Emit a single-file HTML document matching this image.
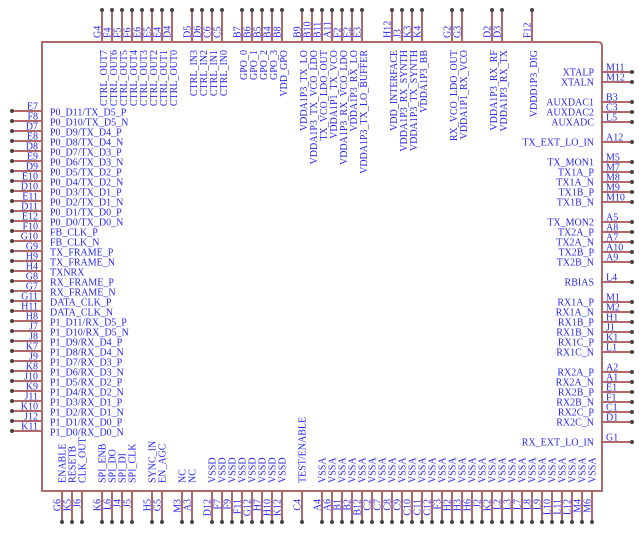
<!DOCTYPE html>
<html><head><meta charset="utf-8"><style>
html,body{margin:0;padding:0;background:#fff}
svg{display:block}
text{font-family:"Liberation Serif",serif;font-size:10px;fill:#2828ee}
.e{text-anchor:end}
line{stroke:#b06868;stroke-width:2}
circle{fill:#444}
</style></head><body>
<svg width="644" height="534" viewBox="0 0 644 534" xmlns="http://www.w3.org/2000/svg">
<path d="M42 42 H598 Q602 42 602 46 V491 H42 Z" fill="none" stroke="#b06868" stroke-width="2"/>

<!-- TOP PINS -->
<g>
<line x1="102" y1="10" x2="102" y2="42"/><circle cx="102" cy="10" r="2"/><text transform="translate(100.5,38) rotate(-90)">G4</text><text class="e" transform="translate(107,50) rotate(-90)">CTRL_OUT7</text>
<line x1="112" y1="10" x2="112" y2="42"/><circle cx="112" cy="10" r="2"/><text transform="translate(110.5,38) rotate(-90)">F4</text><text class="e" transform="translate(117,50) rotate(-90)">CTRL_OUT6</text>
<line x1="122" y1="10" x2="122" y2="42"/><circle cx="122" cy="10" r="2"/><text transform="translate(120.5,38) rotate(-90)">F5</text><text class="e" transform="translate(127,50) rotate(-90)">CTRL_OUT5</text>
<line x1="132" y1="10" x2="132" y2="42"/><circle cx="132" cy="10" r="2"/><text transform="translate(130.5,38) rotate(-90)">F6</text><text class="e" transform="translate(137,50) rotate(-90)">CTRL_OUT4</text>
<line x1="142" y1="10" x2="142" y2="42"/><circle cx="142" cy="10" r="2"/><text transform="translate(140.5,38) rotate(-90)">E6</text><text class="e" transform="translate(147,50) rotate(-90)">CTRL_OUT3</text>
<line x1="152" y1="10" x2="152" y2="42"/><circle cx="152" cy="10" r="2"/><text transform="translate(150.5,38) rotate(-90)">E5</text><text class="e" transform="translate(157,50) rotate(-90)">CTRL_OUT2</text>
<line x1="162" y1="10" x2="162" y2="42"/><circle cx="162" cy="10" r="2"/><text transform="translate(160.5,38) rotate(-90)">E4</text><text class="e" transform="translate(167,50) rotate(-90)">CTRL_OUT1</text>
<line x1="172" y1="10" x2="172" y2="42"/><circle cx="172" cy="10" r="2"/><text transform="translate(170.5,38) rotate(-90)">D4</text><text class="e" transform="translate(177,50) rotate(-90)">CTRL_OUT0</text>
<line x1="192" y1="10" x2="192" y2="42"/><circle cx="192" cy="10" r="2"/><text transform="translate(190.5,38) rotate(-90)">D5</text><text class="e" transform="translate(197,50) rotate(-90)">CTRL_IN3</text>
<line x1="202" y1="10" x2="202" y2="42"/><circle cx="202" cy="10" r="2"/><text transform="translate(200.5,38) rotate(-90)">D6</text><text class="e" transform="translate(207,50) rotate(-90)">CTRL_IN2</text>
<line x1="212" y1="10" x2="212" y2="42"/><circle cx="212" cy="10" r="2"/><text transform="translate(210.5,38) rotate(-90)">C6</text><text class="e" transform="translate(217,50) rotate(-90)">CTRL_IN1</text>
<line x1="222" y1="10" x2="222" y2="42"/><circle cx="222" cy="10" r="2"/><text transform="translate(220.5,38) rotate(-90)">C5</text><text class="e" transform="translate(227,50) rotate(-90)">CTRL_IN0</text>
<line x1="242" y1="10" x2="242" y2="42"/><circle cx="242" cy="10" r="2"/><text transform="translate(240.5,38) rotate(-90)">B7</text><text class="e" transform="translate(247,50) rotate(-90)">GPO_0</text>
<line x1="252" y1="10" x2="252" y2="42"/><circle cx="252" cy="10" r="2"/><text transform="translate(250.5,38) rotate(-90)">B6</text><text class="e" transform="translate(257,50) rotate(-90)">GPO_1</text>
<line x1="262" y1="10" x2="262" y2="42"/><circle cx="262" cy="10" r="2"/><text transform="translate(260.5,38) rotate(-90)">B5</text><text class="e" transform="translate(267,50) rotate(-90)">GPO_2</text>
<line x1="272" y1="10" x2="272" y2="42"/><circle cx="272" cy="10" r="2"/><text transform="translate(270.5,38) rotate(-90)">B4</text><text class="e" transform="translate(277,50) rotate(-90)">GPO_3</text>
<line x1="282" y1="10" x2="282" y2="42"/><circle cx="282" cy="10" r="2"/><text transform="translate(280.5,38) rotate(-90)">B8</text><text class="e" transform="translate(287,50) rotate(-90)">VDD_GPO</text>
<line x1="302" y1="10" x2="302" y2="42"/><circle cx="302" cy="10" r="2"/><text transform="translate(300.5,38) rotate(-90)">B9</text><text class="e" transform="translate(307,50) rotate(-90)">VDDA1P3_TX_LO</text>
<line x1="312" y1="10" x2="312" y2="42"/><circle cx="312" cy="10" r="2"/><text transform="translate(310.5,38) rotate(-90)">B10</text><text class="e" transform="translate(317,50) rotate(-90)">VDDA1P3_TX_VCO_LDO</text>
<line x1="322" y1="10" x2="322" y2="42"/><circle cx="322" cy="10" r="2"/><text transform="translate(320.5,38) rotate(-90)">B11</text><text class="e" transform="translate(327,50) rotate(-90)">TX_VCO_LDO_OUT</text>
<line x1="332" y1="10" x2="332" y2="42"/><circle cx="332" cy="10" r="2"/><text transform="translate(330.5,38) rotate(-90)">A11</text><text class="e" transform="translate(337,50) rotate(-90)">VDDA1P1_TX_VCO</text>
<line x1="342" y1="10" x2="342" y2="42"/><circle cx="342" cy="10" r="2"/><text transform="translate(340.5,38) rotate(-90)">F2</text><text class="e" transform="translate(347,50) rotate(-90)">VDDA1P3_RX_VCO_LDO</text>
<line x1="352" y1="10" x2="352" y2="42"/><circle cx="352" cy="10" r="2"/><text transform="translate(350.5,38) rotate(-90)">E2</text><text class="e" transform="translate(357,50) rotate(-90)">VDDA1P3_RX_LO</text>
<line x1="362" y1="10" x2="362" y2="42"/><circle cx="362" cy="10" r="2"/><text transform="translate(360.5,38) rotate(-90)">E3</text><text class="e" transform="translate(367,50) rotate(-90)">VDDA1P3_TX_LO_BUFFER</text>
<line x1="392" y1="10" x2="392" y2="42"/><circle cx="392" cy="10" r="2"/><text transform="translate(390.5,38) rotate(-90)">H12</text><text class="e" transform="translate(397,50) rotate(-90)">VDD_INTERFACE</text>
<line x1="402" y1="10" x2="402" y2="42"/><circle cx="402" cy="10" r="2"/><text transform="translate(400.5,38) rotate(-90)">J3</text><text class="e" transform="translate(407,50) rotate(-90)">VDDA1P3_RX_SYNTH</text>
<line x1="412" y1="10" x2="412" y2="42"/><circle cx="412" cy="10" r="2"/><text transform="translate(410.5,38) rotate(-90)">K3</text><text class="e" transform="translate(417,50) rotate(-90)">VDDA1P3_TX_SYNTH</text>
<line x1="422" y1="10" x2="422" y2="42"/><circle cx="422" cy="10" r="2"/><text transform="translate(420.5,38) rotate(-90)">K4</text><text class="e" transform="translate(427,50) rotate(-90)">VDDA1P3_BB</text>
<line x1="452" y1="10" x2="452" y2="42"/><circle cx="452" cy="10" r="2"/><text transform="translate(450.5,38) rotate(-90)">G2</text><text class="e" transform="translate(457,50) rotate(-90)">RX_VCO_LDO_OUT</text>
<line x1="462" y1="10" x2="462" y2="42"/><circle cx="462" cy="10" r="2"/><text transform="translate(460.5,38) rotate(-90)">G3</text><text class="e" transform="translate(467,50) rotate(-90)">VDDA1P1_RX_VCO</text>
<line x1="492" y1="10" x2="492" y2="42"/><circle cx="492" cy="10" r="2"/><text transform="translate(490.5,38) rotate(-90)">D2</text><text class="e" transform="translate(497,50) rotate(-90)">VDDA1P3_RX_RF</text>
<line x1="502" y1="10" x2="502" y2="42"/><circle cx="502" cy="10" r="2"/><text transform="translate(500.5,38) rotate(-90)">D3</text><text class="e" transform="translate(507,50) rotate(-90)">VDDA1P3_RX_TX</text>
<line x1="532" y1="10" x2="532" y2="42"/><circle cx="532" cy="10" r="2"/><text transform="translate(530.5,38) rotate(-90)">F12</text><text class="e" transform="translate(537,50) rotate(-90)">VDDD1P3_DIG</text>
</g>

<!-- LEFT PINS -->
<g>
<line x1="12" y1="111" x2="42" y2="111"/><circle cx="12" cy="111" r="2"/><text class="e" x="38" y="109.5">E7</text><text x="50" y="115.5">P0_D11/TX_D5_P</text>
<line x1="12" y1="121" x2="42" y2="121"/><circle cx="12" cy="121" r="2"/><text class="e" x="38" y="119.5">F8</text><text x="50" y="125.5">P0_D10/TX_D5_N</text>
<line x1="12" y1="131" x2="42" y2="131"/><circle cx="12" cy="131" r="2"/><text class="e" x="38" y="129.5">D7</text><text x="50" y="135.5">P0_D9/TX_D4_P</text>
<line x1="12" y1="141" x2="42" y2="141"/><circle cx="12" cy="141" r="2"/><text class="e" x="38" y="139.5">E8</text><text x="50" y="145.5">P0_D8/TX_D4_N</text>
<line x1="12" y1="151" x2="42" y2="151"/><circle cx="12" cy="151" r="2"/><text class="e" x="38" y="149.5">D8</text><text x="50" y="155.5">P0_D7/TX_D3_P</text>
<line x1="12" y1="161" x2="42" y2="161"/><circle cx="12" cy="161" r="2"/><text class="e" x="38" y="159.5">E9</text><text x="50" y="165.5">P0_D6/TX_D3_N</text>
<line x1="12" y1="171" x2="42" y2="171"/><circle cx="12" cy="171" r="2"/><text class="e" x="38" y="169.5">D9</text><text x="50" y="175.5">P0_D5/TX_D2_P</text>
<line x1="12" y1="181" x2="42" y2="181"/><circle cx="12" cy="181" r="2"/><text class="e" x="38" y="179.5">E10</text><text x="50" y="185.5">P0_D4/TX_D2_N</text>
<line x1="12" y1="191" x2="42" y2="191"/><circle cx="12" cy="191" r="2"/><text class="e" x="38" y="189.5">D10</text><text x="50" y="195.5">P0_D3/TX_D1_P</text>
<line x1="12" y1="201" x2="42" y2="201"/><circle cx="12" cy="201" r="2"/><text class="e" x="38" y="199.5">E11</text><text x="50" y="205.5">P0_D2/TX_D1_N</text>
<line x1="12" y1="211" x2="42" y2="211"/><circle cx="12" cy="211" r="2"/><text class="e" x="38" y="209.5">D11</text><text x="50" y="215.5">P0_D1/TX_D0_P</text>
<line x1="12" y1="221" x2="42" y2="221"/><circle cx="12" cy="221" r="2"/><text class="e" x="38" y="219.5">E12</text><text x="50" y="225.5">P0_D0/TX_D0_N</text>
<line x1="12" y1="231" x2="42" y2="231"/><circle cx="12" cy="231" r="2"/><text class="e" x="38" y="229.5">F10</text><text x="50" y="235.5">FB_CLK_P</text>
<line x1="12" y1="241" x2="42" y2="241"/><circle cx="12" cy="241" r="2"/><text class="e" x="38" y="239.5">G10</text><text x="50" y="245.5">FB_CLK_N</text>
<line x1="12" y1="251" x2="42" y2="251"/><circle cx="12" cy="251" r="2"/><text class="e" x="38" y="249.5">G9</text><text x="50" y="255.5">TX_FRAME_P</text>
<line x1="12" y1="261" x2="42" y2="261"/><circle cx="12" cy="261" r="2"/><text class="e" x="38" y="259.5">H9</text><text x="50" y="265.5">TX_FRAME_N</text>
<line x1="12" y1="271" x2="42" y2="271"/><circle cx="12" cy="271" r="2"/><text class="e" x="38" y="269.5">H4</text><text x="50" y="275.5">TXNRX</text>
<line x1="12" y1="281" x2="42" y2="281"/><circle cx="12" cy="281" r="2"/><text class="e" x="38" y="279.5">G8</text><text x="50" y="285.5">RX_FRAME_P</text>
<line x1="12" y1="291" x2="42" y2="291"/><circle cx="12" cy="291" r="2"/><text class="e" x="38" y="289.5">G7</text><text x="50" y="295.5">RX_FRAME_N</text>
<line x1="12" y1="301" x2="42" y2="301"/><circle cx="12" cy="301" r="2"/><text class="e" x="38" y="299.5">G11</text><text x="50" y="305.5">DATA_CLK_P</text>
<line x1="12" y1="311" x2="42" y2="311"/><circle cx="12" cy="311" r="2"/><text class="e" x="38" y="309.5">H11</text><text x="50" y="315.5">DATA_CLK_N</text>
<line x1="12" y1="321" x2="42" y2="321"/><circle cx="12" cy="321" r="2"/><text class="e" x="38" y="319.5">H8</text><text x="50" y="325.5">P1_D11/RX_D5_P</text>
<line x1="12" y1="331" x2="42" y2="331"/><circle cx="12" cy="331" r="2"/><text class="e" x="38" y="329.5">J7</text><text x="50" y="335.5">P1_D10/RX_D5_N</text>
<line x1="12" y1="341" x2="42" y2="341"/><circle cx="12" cy="341" r="2"/><text class="e" x="38" y="339.5">J8</text><text x="50" y="345.5">P1_D9/RX_D4_P</text>
<line x1="12" y1="351" x2="42" y2="351"/><circle cx="12" cy="351" r="2"/><text class="e" x="38" y="349.5">K7</text><text x="50" y="355.5">P1_D8/RX_D4_N</text>
<line x1="12" y1="361" x2="42" y2="361"/><circle cx="12" cy="361" r="2"/><text class="e" x="38" y="359.5">J9</text><text x="50" y="365.5">P1_D7/RX_D3_P</text>
<line x1="12" y1="371" x2="42" y2="371"/><circle cx="12" cy="371" r="2"/><text class="e" x="38" y="369.5">K8</text><text x="50" y="375.5">P1_D6/RX_D3_N</text>
<line x1="12" y1="381" x2="42" y2="381"/><circle cx="12" cy="381" r="2"/><text class="e" x="38" y="379.5">J10</text><text x="50" y="385.5">P1_D5/RX_D2_P</text>
<line x1="12" y1="391" x2="42" y2="391"/><circle cx="12" cy="391" r="2"/><text class="e" x="38" y="389.5">K9</text><text x="50" y="395.5">P1_D4/RX_D2_N</text>
<line x1="12" y1="401" x2="42" y2="401"/><circle cx="12" cy="401" r="2"/><text class="e" x="38" y="399.5">J11</text><text x="50" y="405.5">P1_D3/RX_D1_P</text>
<line x1="12" y1="411" x2="42" y2="411"/><circle cx="12" cy="411" r="2"/><text class="e" x="38" y="409.5">K10</text><text x="50" y="415.5">P1_D2/RX_D1_N</text>
<line x1="12" y1="421" x2="42" y2="421"/><circle cx="12" cy="421" r="2"/><text class="e" x="38" y="419.5">J12</text><text x="50" y="425.5">P1_D1/RX_D0_P</text>
<line x1="12" y1="431" x2="42" y2="431"/><circle cx="12" cy="431" r="2"/><text class="e" x="38" y="429.5">K11</text><text x="50" y="435.5">P1_D0/RX_D0_N</text>
</g>

<!-- RIGHT PINS -->
<g>
<line x1="602" y1="72" x2="632" y2="72"/><circle cx="632" cy="72" r="2"/><text x="606" y="70.5">M11</text><text class="e" x="594" y="75.5">XTALP</text>
<line x1="602" y1="82" x2="632" y2="82"/><circle cx="632" cy="82" r="2"/><text x="606" y="80.5">M12</text><text class="e" x="594" y="85.5">XTALN</text>
<line x1="602" y1="102" x2="632" y2="102"/><circle cx="632" cy="102" r="2"/><text x="606" y="100.5">B3</text><text class="e" x="594" y="105.5">AUXDAC1</text>
<line x1="602" y1="112" x2="632" y2="112"/><circle cx="632" cy="112" r="2"/><text x="606" y="110.5">C3</text><text class="e" x="594" y="115.5">AUXDAC2</text>
<line x1="602" y1="122" x2="632" y2="122"/><circle cx="632" cy="122" r="2"/><text x="606" y="120.5">L5</text><text class="e" x="594" y="125.5">AUXADC</text>
<line x1="602" y1="142" x2="632" y2="142"/><circle cx="632" cy="142" r="2"/><text x="606" y="140.5">A12</text><text class="e" x="594" y="145.5">TX_EXT_LO_IN</text>
<line x1="602" y1="162" x2="632" y2="162"/><circle cx="632" cy="162" r="2"/><text x="606" y="160.5">M5</text><text class="e" x="594" y="165.5">TX_MON1</text>
<line x1="602" y1="172" x2="632" y2="172"/><circle cx="632" cy="172" r="2"/><text x="606" y="170.5">M7</text><text class="e" x="594" y="175.5">TX1A_P</text>
<line x1="602" y1="182" x2="632" y2="182"/><circle cx="632" cy="182" r="2"/><text x="606" y="180.5">M8</text><text class="e" x="594" y="185.5">TX1A_N</text>
<line x1="602" y1="192" x2="632" y2="192"/><circle cx="632" cy="192" r="2"/><text x="606" y="190.5">M9</text><text class="e" x="594" y="195.5">TX1B_P</text>
<line x1="602" y1="202" x2="632" y2="202"/><circle cx="632" cy="202" r="2"/><text x="606" y="200.5">M10</text><text class="e" x="594" y="205.5">TX1B_N</text>
<line x1="602" y1="222" x2="632" y2="222"/><circle cx="632" cy="222" r="2"/><text x="606" y="220.5">A5</text><text class="e" x="594" y="225.5">TX_MON2</text>
<line x1="602" y1="232" x2="632" y2="232"/><circle cx="632" cy="232" r="2"/><text x="606" y="230.5">A8</text><text class="e" x="594" y="235.5">TX2A_P</text>
<line x1="602" y1="242" x2="632" y2="242"/><circle cx="632" cy="242" r="2"/><text x="606" y="240.5">A7</text><text class="e" x="594" y="245.5">TX2A_N</text>
<line x1="602" y1="252" x2="632" y2="252"/><circle cx="632" cy="252" r="2"/><text x="606" y="250.5">A10</text><text class="e" x="594" y="255.5">TX2B_P</text>
<line x1="602" y1="262" x2="632" y2="262"/><circle cx="632" cy="262" r="2"/><text x="606" y="260.5">A9</text><text class="e" x="594" y="265.5">TX2B_N</text>
<line x1="602" y1="282" x2="632" y2="282"/><circle cx="632" cy="282" r="2"/><text x="606" y="280.5">L4</text><text class="e" x="594" y="285.5">RBIAS</text>
<line x1="602" y1="302" x2="632" y2="302"/><circle cx="632" cy="302" r="2"/><text x="606" y="300.5">M1</text><text class="e" x="594" y="305.5">RX1A_P</text>
<line x1="602" y1="312" x2="632" y2="312"/><circle cx="632" cy="312" r="2"/><text x="606" y="310.5">M2</text><text class="e" x="594" y="315.5">RX1A_N</text>
<line x1="602" y1="322" x2="632" y2="322"/><circle cx="632" cy="322" r="2"/><text x="606" y="320.5">H1</text><text class="e" x="594" y="325.5">RX1B_P</text>
<line x1="602" y1="332" x2="632" y2="332"/><circle cx="632" cy="332" r="2"/><text x="606" y="330.5">J1</text><text class="e" x="594" y="335.5">RX1B_N</text>
<line x1="602" y1="342" x2="632" y2="342"/><circle cx="632" cy="342" r="2"/><text x="606" y="340.5">K1</text><text class="e" x="594" y="345.5">RX1C_P</text>
<line x1="602" y1="352" x2="632" y2="352"/><circle cx="632" cy="352" r="2"/><text x="606" y="350.5">L1</text><text class="e" x="594" y="355.5">RX1C_N</text>
<line x1="602" y1="372" x2="632" y2="372"/><circle cx="632" cy="372" r="2"/><text x="606" y="370.5">A2</text><text class="e" x="594" y="375.5">RX2A_P</text>
<line x1="602" y1="382" x2="632" y2="382"/><circle cx="632" cy="382" r="2"/><text x="606" y="380.5">A1</text><text class="e" x="594" y="385.5">RX2A_N</text>
<line x1="602" y1="392" x2="632" y2="392"/><circle cx="632" cy="392" r="2"/><text x="606" y="390.5">E1</text><text class="e" x="594" y="395.5">RX2B_P</text>
<line x1="602" y1="402" x2="632" y2="402"/><circle cx="632" cy="402" r="2"/><text x="606" y="400.5">F1</text><text class="e" x="594" y="405.5">RX2B_N</text>
<line x1="602" y1="412" x2="632" y2="412"/><circle cx="632" cy="412" r="2"/><text x="606" y="410.5">C1</text><text class="e" x="594" y="415.5">RX2C_P</text>
<line x1="602" y1="422" x2="632" y2="422"/><circle cx="632" cy="422" r="2"/><text x="606" y="420.5">D1</text><text class="e" x="594" y="425.5">RX2C_N</text>
<line x1="602" y1="442" x2="632" y2="442"/><circle cx="632" cy="442" r="2"/><text x="606" y="440.5">G1</text><text class="e" x="594" y="445.5">RX_EXT_LO_IN</text>
</g>

<!-- BOTTOM PINS -->
<g>
<line x1="62" y1="491" x2="62" y2="522"/><circle cx="62" cy="522" r="2"/><text class="e" transform="translate(60.5,499) rotate(-90)">G6</text><text transform="translate(65.5,483) rotate(-90)">ENABLE</text>
<line x1="72" y1="491" x2="72" y2="522"/><circle cx="72" cy="522" r="2"/><text class="e" transform="translate(70.5,499) rotate(-90)">K5</text><text transform="translate(75.5,483) rotate(-90)">RESETB</text>
<line x1="82" y1="491" x2="82" y2="522"/><circle cx="82" cy="522" r="2"/><text class="e" transform="translate(80.5,499) rotate(-90)">J6</text><text transform="translate(85.5,483) rotate(-90)">CLK_OUT</text>
<line x1="102" y1="491" x2="102" y2="522"/><circle cx="102" cy="522" r="2"/><text class="e" transform="translate(100.5,499) rotate(-90)">K6</text><text transform="translate(105.5,483) rotate(-90)">SPI_ENB</text>
<line x1="112" y1="491" x2="112" y2="522"/><circle cx="112" cy="522" r="2"/><text class="e" transform="translate(110.5,499) rotate(-90)">L6</text><text transform="translate(115.5,483) rotate(-90)">SPI_DO</text>
<line x1="122" y1="491" x2="122" y2="522"/><circle cx="122" cy="522" r="2"/><text class="e" transform="translate(120.5,499) rotate(-90)">J4</text><text transform="translate(125.5,483) rotate(-90)">SPI_DI</text>
<line x1="132" y1="491" x2="132" y2="522"/><circle cx="132" cy="522" r="2"/><text class="e" transform="translate(130.5,499) rotate(-90)">J5</text><text transform="translate(135.5,483) rotate(-90)">SPI_CLK</text>
<line x1="152" y1="491" x2="152" y2="522"/><circle cx="152" cy="522" r="2"/><text class="e" transform="translate(150.5,499) rotate(-90)">H5</text><text transform="translate(155.5,483) rotate(-90)">SYNC_IN</text>
<line x1="162" y1="491" x2="162" y2="522"/><circle cx="162" cy="522" r="2"/><text class="e" transform="translate(160.5,499) rotate(-90)">G5</text><text transform="translate(165.5,483) rotate(-90)">EN_AGC</text>
<line x1="182" y1="491" x2="182" y2="522"/><circle cx="182" cy="522" r="2"/><text class="e" transform="translate(180.5,499) rotate(-90)">M3</text><text transform="translate(185.5,483) rotate(-90)">NC</text>
<line x1="192" y1="491" x2="192" y2="522"/><circle cx="192" cy="522" r="2"/><text class="e" transform="translate(190.5,499) rotate(-90)">A3</text><text transform="translate(195.5,483) rotate(-90)">NC</text>
<line x1="212" y1="491" x2="212" y2="522"/><circle cx="212" cy="522" r="2"/><text class="e" transform="translate(210.5,499) rotate(-90)">D12</text><text transform="translate(215.5,483) rotate(-90)">VSSD</text>
<line x1="222" y1="491" x2="222" y2="522"/><circle cx="222" cy="522" r="2"/><text class="e" transform="translate(220.5,499) rotate(-90)">F7</text><text transform="translate(225.5,483) rotate(-90)">VSSD</text>
<line x1="232" y1="491" x2="232" y2="522"/><circle cx="232" cy="522" r="2"/><text class="e" transform="translate(230.5,499) rotate(-90)">F9</text><text transform="translate(235.5,483) rotate(-90)">VSSD</text>
<line x1="242" y1="491" x2="242" y2="522"/><circle cx="242" cy="522" r="2"/><text class="e" transform="translate(240.5,499) rotate(-90)">F11</text><text transform="translate(245.5,483) rotate(-90)">VSSD</text>
<line x1="252" y1="491" x2="252" y2="522"/><circle cx="252" cy="522" r="2"/><text class="e" transform="translate(250.5,499) rotate(-90)">G12</text><text transform="translate(255.5,483) rotate(-90)">VSSD</text>
<line x1="262" y1="491" x2="262" y2="522"/><circle cx="262" cy="522" r="2"/><text class="e" transform="translate(260.5,499) rotate(-90)">H7</text><text transform="translate(265.5,483) rotate(-90)">VSSD</text>
<line x1="272" y1="491" x2="272" y2="522"/><circle cx="272" cy="522" r="2"/><text class="e" transform="translate(270.5,499) rotate(-90)">H10</text><text transform="translate(275.5,483) rotate(-90)">VSSD</text>
<line x1="282" y1="491" x2="282" y2="522"/><circle cx="282" cy="522" r="2"/><text class="e" transform="translate(280.5,499) rotate(-90)">K12</text><text transform="translate(285.5,483) rotate(-90)">VSSD</text>
<line x1="302" y1="491" x2="302" y2="522"/><circle cx="302" cy="522" r="2"/><text class="e" transform="translate(300.5,499) rotate(-90)">C4</text><text transform="translate(305.5,483) rotate(-90)">TEST/ENABLE</text>
<line x1="322" y1="491" x2="322" y2="522"/><circle cx="322" cy="522" r="2"/><text class="e" transform="translate(320.5,499) rotate(-90)">A4</text><text transform="translate(325.5,483) rotate(-90)">VSSA</text>
<line x1="332" y1="491" x2="332" y2="522"/><circle cx="332" cy="522" r="2"/><text class="e" transform="translate(330.5,499) rotate(-90)">A6</text><text transform="translate(335.5,483) rotate(-90)">VSSA</text>
<line x1="342" y1="491" x2="342" y2="522"/><circle cx="342" cy="522" r="2"/><text class="e" transform="translate(340.5,499) rotate(-90)">B1</text><text transform="translate(345.5,483) rotate(-90)">VSSA</text>
<line x1="352" y1="491" x2="352" y2="522"/><circle cx="352" cy="522" r="2"/><text class="e" transform="translate(350.5,499) rotate(-90)">B2</text><text transform="translate(355.5,483) rotate(-90)">VSSA</text>
<line x1="362" y1="491" x2="362" y2="522"/><circle cx="362" cy="522" r="2"/><text class="e" transform="translate(360.5,499) rotate(-90)">B12</text><text transform="translate(365.5,483) rotate(-90)">VSSA</text>
<line x1="372" y1="491" x2="372" y2="522"/><circle cx="372" cy="522" r="2"/><text class="e" transform="translate(370.5,499) rotate(-90)">C2</text><text transform="translate(375.5,483) rotate(-90)">VSSA</text>
<line x1="382" y1="491" x2="382" y2="522"/><circle cx="382" cy="522" r="2"/><text class="e" transform="translate(380.5,499) rotate(-90)">C7</text><text transform="translate(385.5,483) rotate(-90)">VSSA</text>
<line x1="392" y1="491" x2="392" y2="522"/><circle cx="392" cy="522" r="2"/><text class="e" transform="translate(390.5,499) rotate(-90)">C8</text><text transform="translate(395.5,483) rotate(-90)">VSSA</text>
<line x1="402" y1="491" x2="402" y2="522"/><circle cx="402" cy="522" r="2"/><text class="e" transform="translate(400.5,499) rotate(-90)">C9</text><text transform="translate(405.5,483) rotate(-90)">VSSA</text>
<line x1="412" y1="491" x2="412" y2="522"/><circle cx="412" cy="522" r="2"/><text class="e" transform="translate(410.5,499) rotate(-90)">C10</text><text transform="translate(415.5,483) rotate(-90)">VSSA</text>
<line x1="422" y1="491" x2="422" y2="522"/><circle cx="422" cy="522" r="2"/><text class="e" transform="translate(420.5,499) rotate(-90)">C11</text><text transform="translate(425.5,483) rotate(-90)">VSSA</text>
<line x1="432" y1="491" x2="432" y2="522"/><circle cx="432" cy="522" r="2"/><text class="e" transform="translate(430.5,499) rotate(-90)">C12</text><text transform="translate(435.5,483) rotate(-90)">VSSA</text>
<line x1="442" y1="491" x2="442" y2="522"/><circle cx="442" cy="522" r="2"/><text class="e" transform="translate(440.5,499) rotate(-90)">F3</text><text transform="translate(445.5,483) rotate(-90)">VSSA</text>
<line x1="452" y1="491" x2="452" y2="522"/><circle cx="452" cy="522" r="2"/><text class="e" transform="translate(450.5,499) rotate(-90)">H2</text><text transform="translate(455.5,483) rotate(-90)">VSSA</text>
<line x1="462" y1="491" x2="462" y2="522"/><circle cx="462" cy="522" r="2"/><text class="e" transform="translate(460.5,499) rotate(-90)">H3</text><text transform="translate(465.5,483) rotate(-90)">VSSA</text>
<line x1="472" y1="491" x2="472" y2="522"/><circle cx="472" cy="522" r="2"/><text class="e" transform="translate(470.5,499) rotate(-90)">H6</text><text transform="translate(475.5,483) rotate(-90)">VSSA</text>
<line x1="482" y1="491" x2="482" y2="522"/><circle cx="482" cy="522" r="2"/><text class="e" transform="translate(480.5,499) rotate(-90)">J2</text><text transform="translate(485.5,483) rotate(-90)">VSSA</text>
<line x1="492" y1="491" x2="492" y2="522"/><circle cx="492" cy="522" r="2"/><text class="e" transform="translate(490.5,499) rotate(-90)">K2</text><text transform="translate(495.5,483) rotate(-90)">VSSA</text>
<line x1="502" y1="491" x2="502" y2="522"/><circle cx="502" cy="522" r="2"/><text class="e" transform="translate(500.5,499) rotate(-90)">L2</text><text transform="translate(505.5,483) rotate(-90)">VSSA</text>
<line x1="512" y1="491" x2="512" y2="522"/><circle cx="512" cy="522" r="2"/><text class="e" transform="translate(510.5,499) rotate(-90)">L3</text><text transform="translate(515.5,483) rotate(-90)">VSSA</text>
<line x1="522" y1="491" x2="522" y2="522"/><circle cx="522" cy="522" r="2"/><text class="e" transform="translate(520.5,499) rotate(-90)">L7</text><text transform="translate(525.5,483) rotate(-90)">VSSA</text>
<line x1="532" y1="491" x2="532" y2="522"/><circle cx="532" cy="522" r="2"/><text class="e" transform="translate(530.5,499) rotate(-90)">L8</text><text transform="translate(535.5,483) rotate(-90)">VSSA</text>
<line x1="542" y1="491" x2="542" y2="522"/><circle cx="542" cy="522" r="2"/><text class="e" transform="translate(540.5,499) rotate(-90)">L9</text><text transform="translate(545.5,483) rotate(-90)">VSSA</text>
<line x1="552" y1="491" x2="552" y2="522"/><circle cx="552" cy="522" r="2"/><text class="e" transform="translate(550.5,499) rotate(-90)">L10</text><text transform="translate(555.5,483) rotate(-90)">VSSA</text>
<line x1="562" y1="491" x2="562" y2="522"/><circle cx="562" cy="522" r="2"/><text class="e" transform="translate(560.5,499) rotate(-90)">L11</text><text transform="translate(565.5,483) rotate(-90)">VSSA</text>
<line x1="572" y1="491" x2="572" y2="522"/><circle cx="572" cy="522" r="2"/><text class="e" transform="translate(570.5,499) rotate(-90)">L12</text><text transform="translate(575.5,483) rotate(-90)">VSSA</text>
<line x1="582" y1="491" x2="582" y2="522"/><circle cx="582" cy="522" r="2"/><text class="e" transform="translate(580.5,499) rotate(-90)">M4</text><text transform="translate(585.5,483) rotate(-90)">VSSA</text>
<line x1="592" y1="491" x2="592" y2="522"/><circle cx="592" cy="522" r="2"/><text class="e" transform="translate(590.5,499) rotate(-90)">M6</text><text transform="translate(595.5,483) rotate(-90)">VSSA</text>
</g>
</svg>
</body></html>
